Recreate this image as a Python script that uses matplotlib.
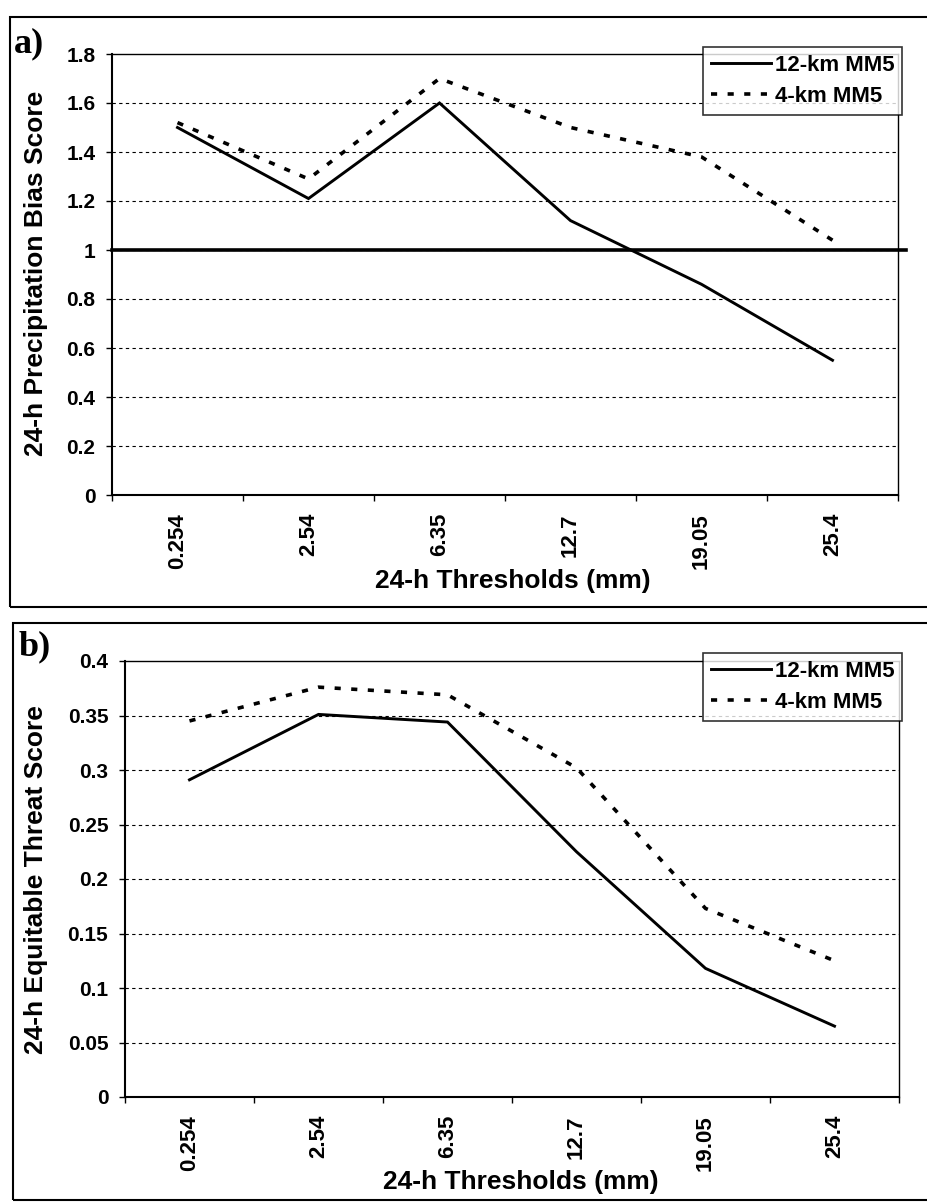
import matplotlib
matplotlib.use("Agg")
import matplotlib.pyplot as plt
from matplotlib.patches import Rectangle
import numpy as np

# 24-h thresholds (mm), category axis
thresholds = ["0.254", "2.54", "6.35", "12.7", "19.05", "25.4"]

# a) precipitation bias score
bias_12km = [1.50, 1.21, 1.60, 1.12, 0.86, 0.55]
bias_4km = [1.52, 1.29, 1.70, 1.50, 1.38, 1.04]
bias_ref = 1.0
bias_ticks = [0, 0.2, 0.4, 0.6, 0.8, 1.0, 1.2, 1.4, 1.6, 1.8]

# b) equitable threat score
ets_12km = [0.291, 0.351, 0.344, 0.225, 0.118, 0.065]
ets_4km = [0.345, 0.376, 0.369, 0.302, 0.173, 0.125]
ets_ticks = [0, 0.05, 0.1, 0.15, 0.2, 0.25, 0.3, 0.35, 0.4]

series_labels = ["12-km MM5", "4-km MM5"]

plt.rcParams['font.family'] = ['Liberation Sans', 'DejaVu Sans']
plt.rcParams['font.weight'] = 'bold'

W, H = 927, 1202
fig = plt.figure(figsize=(W / 100, H / 100), dpi=100)


def fx(px):
    return px / W


def fy(py):
    return 1 - py / H


def make_panel(rect, y12, y4, yticks, legend_top):
    ax = fig.add_axes(rect)
    x = np.arange(len(thresholds)) + 0.5
    ax.plot(x, y12, color='black', lw=2.1, solid_joinstyle='miter', label=series_labels[0], zorder=4)
    ax.plot(x, y4, color='black', lw=2.6, linestyle=(0, (1.7, 2.9)), label=series_labels[1], zorder=4)
    ax.set_xlim(0, len(thresholds))
    ax.set_ylim(yticks[0], yticks[-1])
    ax.set_yticks(yticks)
    ax.set_yticklabels(["%g" % t for t in yticks], fontsize=15, fontweight='bold')
    ax.set_xticks(np.arange(len(thresholds) + 1))
    ax.set_xticklabels([])
    ax.set_xticks(x, minor=True)
    ax.set_xticklabels(thresholds, minor=True, rotation=90, fontsize=16, fontweight='bold')
    ax.tick_params(axis='x', which='minor', length=0, pad=13)
    ax.tick_params(axis='x', which='major', length=4, width=1.0, direction='out')
    ax.tick_params(axis='y', length=4, width=1.0, direction='out', pad=8)
    for t in yticks[1:-1]:
        ax.axhline(t, color='black', lw=0.8, linestyle=(0, (3, 3)), zorder=1)
    for s in ['left', 'bottom']:
        ax.spines[s].set_linewidth(1.5)
    for s in ['top', 'right']:
        ax.spines[s].set_linewidth(1.0)
    leg = ax.legend(loc='upper right', bbox_to_anchor=(fx(902), fy(legend_top)),
                    bbox_transform=fig.transFigure, borderaxespad=0,
                    frameon=True, fancybox=False, handlelength=2.7, handletextpad=0.15,
                    borderpad=0.35, labelspacing=0.45, prop={'weight': 'bold', 'size': 16})
    leg.get_frame().set_edgecolor('black')
    leg.get_frame().set_linewidth(1.2)
    leg.set_zorder(6)
    return ax


# panel a
ax_a = make_panel([fx(112), fy(495), fx(898) - fx(112), fy(54) - fy(495)],
                  bias_12km, bias_4km, bias_ticks, 47)
ax_a.axhline(bias_ref, xmin=0, xmax=1.01, color='black', lw=2.6, clip_on=False, zorder=3)
fig.text(fx(36), fy(273), "24-h Precipitation Bias Score", rotation=90, fontsize=19,
         fontweight='bold', ha='center', va='center')
fig.text(fx(513), fy(581), "24-h Thresholds (mm)", fontsize=19, fontweight='bold',
         ha='center', va='center')
fig.text(fx(14), fy(44), "a)", fontsize=26, fontweight='bold', family='Liberation Serif',
         ha='left', va='center')

# panel b
ax_b = make_panel([fx(125), fy(1097), fx(899) - fx(125), fy(661) - fy(1097)],
                  ets_12km, ets_4km, ets_ticks, 653)
fig.text(fx(36), fy(880), "24-h Equitable Threat Score", rotation=90, fontsize=19,
         fontweight='bold', ha='center', va='center')
fig.text(fx(521), fy(1182), "24-h Thresholds (mm)", fontsize=19, fontweight='bold',
         ha='center', va='center')
fig.text(fx(19), fy(647), "b)", fontsize=26, fontweight='bold', family='Liberation Serif',
         ha='left', va='center')

# outer boxes around each panel
fig.patches.append(Rectangle((fx(10), fy(607)), fx(940) - fx(10), fy(17) - fy(607),
                             transform=fig.transFigure, fill=False, lw=1.5, ec='black'))
fig.patches.append(Rectangle((fx(13), fy(1200)), fx(940) - fx(13), fy(623) - fy(1200),
                             transform=fig.transFigure, fill=False, lw=1.5, ec='black'))

fig.savefig("out.png", dpi=100)
